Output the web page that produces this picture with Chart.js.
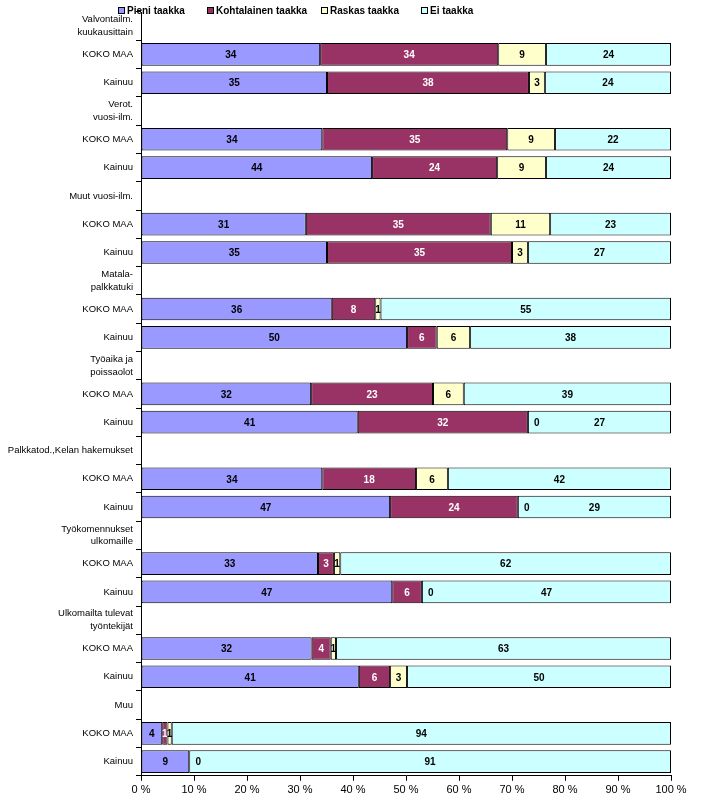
<!DOCTYPE html>
<html>
<head>
<meta charset="utf-8">
<script src="https://cdn.jsdelivr.net/npm/chart.js@4.4.1/dist/chart.umd.min.js"></script>
<style>
  body { margin: 0; background: #fff; }
  #wrap { width: 725px; height: 803px; position: relative; }
</style>
</head>
<body>
<div id="wrap"><canvas id="taakkaChart"></canvas></div>
<script>
// Group headings (one empty row each) followed by KOKO MAA / Kainuu rows
const groups = [
    ['Valvontailm.', 'kuukausittain'],
    ['Verot.', 'vuosi-ilm.'],
    'Muut vuosi-ilm.',
    ['Matala-', 'palkkatuki'],
    ['Työaika ja', 'poissaolot'],
    'Palkkatod.,Kelan hakemukset',
    ['Työkomennukset', 'ulkomaille'],
    ['Ulkomailta tulevat', 'työntekijät'],
    'Muu'
];
const regions = ['KOKO MAA', 'Kainuu'];

// Percent values, two per group (KOKO MAA, Kainuu)
const pieni       = [33.8, 35.1, 34.2, 43.6, 31.1, 35.1, 36.0, 50.2, 32.1, 40.9, 34.2, 47.0, 33.4, 47.4, 32.2, 41.1, 4.0, 9.1];
const kohtalainen = [33.6, 38.1, 34.9, 23.6, 34.9, 34.9, 8.2, 5.6, 23.0, 32.1, 17.7, 24.1, 3.0, 5.6, 3.6, 5.9, 1.0, 0];
const raskas      = [9.0, 3.0, 9.0, 9.2, 11.2, 3.0, 1.0, 6.3, 5.8, 0, 6.0, 0, 1.2, 0, 1.0, 3.2, 0.8, null];
const eiTaakkaa   = [23.6, 23.8, 21.9, 23.6, 22.8, 27.0, 54.8, 37.9, 39.1, 27.0, 42.1, 28.9, 62.4, 47.0, 63.2, 49.8, 94.2, 90.9];

const xTicks = [0, 10, 20, 30, 40, 50, 60, 70, 80, 90, 100];

// Build the 27 row labels and pad series with null for heading rows
const labels = [];
groups.forEach(g => { labels.push(g); regions.forEach(r => labels.push(r)); });

function withHeadings(values) {
    const out = [];
    groups.forEach((g, i) => {
        out.push(null);
        out.push(values[i * 2]);
        out.push(values[i * 2 + 1]);
    });
    return out;
}

const FONT = "'Liberation Sans', Arial, sans-serif";

// Value labels inside segments
const segmentLabels = {
    id: 'segmentLabels',
    afterDatasetsDraw(chart) {
        const ctx = chart.ctx;
        ctx.save();
        ctx.font = 'bold 10px ' + FONT;
        ctx.textAlign = 'center';
        ctx.textBaseline = 'middle';
        chart.data.datasets.forEach((ds, di) => {
            chart.getDatasetMeta(di).data.forEach((bar, i) => {
                const v = ds.data[i];
                if (v === null || v === undefined) return;
                let x = (bar.x + bar.base) / 2;
                if (v === 0) x = bar.x + 9;
                ctx.fillStyle = (di === 1 && v !== 0) ? '#fff' : '#000';
                ctx.fillText(String(Math.round(v)), x, bar.y + 1);
            });
        });
        ctx.restore();
    }
};

// Legend row across the top
const legendX = [118, 207, 321, 421];
const topLegend = {
    id: 'topLegend',
    afterDraw(chart) {
        const ctx = chart.ctx;
        ctx.save();
        ctx.font = 'bold 10px ' + FONT;
        ctx.textBaseline = 'middle';
        const y = 11;
        chart.data.datasets.forEach((ds, i) => {
            const x = legendX[i];
            ctx.fillStyle = ds.backgroundColor;
            ctx.fillRect(x, y - 4, 7, 7);
            ctx.strokeStyle = '#000';
            ctx.lineWidth = 1;
            ctx.strokeRect(x + 0.5, y - 3.5, 6, 6);
            ctx.fillStyle = '#000';
            ctx.fillText(ds.label, x + 9, y);
        });
        ctx.restore();
    }
};

const ctx = document.getElementById('taakkaChart').getContext('2d');
const taakkaChart = new Chart(ctx, {
    type: 'bar',
    data: {
        labels: labels,
        datasets: [
            { label: 'Pieni taakka', data: withHeadings(pieni), backgroundColor: '#9999FF' },
            { label: 'Kohtalainen taakka', data: withHeadings(kohtalainen), backgroundColor: '#993366' },
            { label: 'Raskas taakka', data: withHeadings(raskas), backgroundColor: '#FFFFCC' },
            { label: 'Ei taakka', data: withHeadings(eiTaakkaa), backgroundColor: '#CCFFFF' }
        ].map(ds => Object.assign(ds, {
            borderColor: '#000',
            borderWidth: 1,
            borderSkipped: false,
            categoryPercentage: 0.8,
            barPercentage: 1
        }))
    },
    options: {
        indexAxis: 'y',
        responsive: true,
        maintainAspectRatio: false,
        animation: false,
        layout: { padding: { top: 12, right: 54, bottom: 3, left: 0 } },
        plugins: {
            legend: { display: false },
            tooltip: { enabled: false }
        },
        scales: {
            x: {
                stacked: true,
                min: 0,
                max: 100,
                afterBuildTicks: scale => { scale.ticks = xTicks.map(v => ({ value: v })); },
                ticks: {
                    callback: v => v + ' %',
                    color: '#000',
                    font: { family: FONT, size: 11 },
                    padding: 3,
                    maxRotation: 0
                },
                grid: { drawOnChartArea: false, drawTicks: true, tickLength: 5, color: '#000' },
                border: { color: '#000' }
            },
            y: {
                stacked: true,
                afterFit: scale => { scale.width = 141; },
                ticks: {
                    color: '#000',
                    font: { family: FONT, size: 9.5, lineHeight: 1.35 },
                    padding: 3,
                    autoSkip: false
                },
                grid: { drawOnChartArea: false, drawTicks: true, tickLength: 5, color: '#000' },
                border: { color: '#000' }
            }
        }
    },
    plugins: [segmentLabels, topLegend]
});
</script>
</body>
</html>
